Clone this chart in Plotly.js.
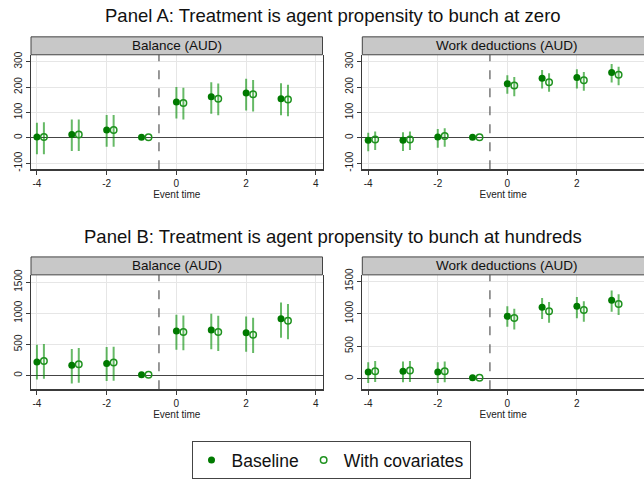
<!DOCTYPE html>
<html>
<head>
<meta charset="utf-8">
<script src="https://cdn.plot.ly/plotly-3.0.1.min.js"></script>
<style>html,body{margin:0;padding:0;background:#fff;}#chart{width:644px;height:479px;}</style>
</head>
<body>
<div id="chart"></div>
<script>
// ---- Data ----
const eventTime = [-4, -3, -2, -1, 0, 1, 2, 3];
const covShift = 0.2;
const panelTitles = ["Panel A: Treatment is agent propensity to bunch at zero",
                     "Panel B: Treatment is agent propensity to bunch at hundreds"];
const subTitles = ["Balance (AUD)", "Work deductions (AUD)"];
const seriesNames = ["Baseline", "With covariates"];

// Panel A – Balance
const aBalBase   = [3, 13, 31, 2, 141, 162, 176, 154];
const aBalBaseLo = [-65, -52, -35, 2, 76, 95, 108, 89];
const aBalBaseHi = [59, 72, 90, 2, 200, 219, 233, 215];
const aBalCov    = [3, 13, 31, 2, 137, 154, 172, 151];
const aBalCovLo  = [-65, -52, -35, 2, 72, 89, 104, 85];
const aBalCovHi  = [61, 72, 90, 2, 197, 214, 228, 209];
// Panel A – Work deductions
const aWrkBase   = [-10, -10, 3, 2, 213, 235, 237, 257];
const aWrkBaseLo = [-53, -52, -39, 2, 173, 194, 194, 218];
const aWrkBaseHi = [20, 22, 35, 2, 246, 267, 270, 291];
const aWrkCov    = [-7, -7, 7, 2, 206, 219, 227, 248];
const aWrkCovLo  = [-48, -48, -35, 2, 164, 181, 185, 207];
const aWrkCovHi  = [25, 25, 38, 2, 239, 254, 259, 280];
// Panel B – Balance
const bBalBase   = [218, 165, 191, 10, 713, 729, 686, 910];
const bBalBaseLo = [-64, -128, -90, 10, 415, 420, 383, 606];
const bBalBaseHi = [495, 426, 458, 10, 974, 990, 947, 1170];
const bBalCov    = [234, 181, 207, 10, 697, 697, 654, 878];
const bBalCovLo  = [-53, -117, -85, 10, 404, 394, 362, 580];
const bBalCovHi  = [505, 442, 463, 10, 963, 958, 926, 1149];
// Panel B – Work deductions
const bWrkBase   = [103, 113, 103, 15, 958, 1097, 1112, 1205];
const bWrkBaseLo = [-67, -57, -67, 15, 798, 917, 927, 1030];
const bWrkBaseHi = [252, 263, 252, 15, 1112, 1241, 1257, 1354];
const bWrkCov    = [113, 124, 113, 15, 932, 1035, 1056, 1148];
const bWrkCovLo  = [-52, -52, -57, 15, 757, 860, 875, 979];
const bWrkCovHi  = [273, 273, 263, 15, 1076, 1179, 1190, 1297];

const xTicks = [-4, -2, 0, 2, 4];
const yTicksA = [-100, 0, 100, 200, 300];
const yTicksB = [0, 500, 1000, 1500];

// ---- Styling ----
const W = 644, H = 479;
const FONT = "Liberation Sans, Arial, Helvetica, sans-serif";
const BASE_COL = "#007a00";
const COV_COL = "#1f921f";
const CI_COL = "rgba(0,140,0,0.6)";
const AXIS_COL = "#3a3a3a";
const GRID_COL = "#e6e6e6";

function px2x(p) { return p / W; }
function py2y(p) { return 1 - p / H; }

const panels = [
  {xa: "x",  ya: "y",  base: [aBalBase, aBalBaseLo, aBalBaseHi], cov: [aBalCov, aBalCovLo, aBalCovHi], legend: true},
  {xa: "x2", ya: "y2", base: [aWrkBase, aWrkBaseLo, aWrkBaseHi], cov: [aWrkCov, aWrkCovLo, aWrkCovHi], legend: false},
  {xa: "x3", ya: "y3", base: [bBalBase, bBalBaseLo, bBalBaseHi], cov: [bBalCov, bBalCovLo, bBalCovHi], legend: false},
  {xa: "x4", ya: "y4", base: [bWrkBase, bWrkBaseLo, bWrkBaseHi], cov: [bWrkCov, bWrkCovLo, bWrkCovHi], legend: false}
];

const traces = [];
panels.forEach(p => {
  const [bv, bl, bh] = p.base;
  const [cv, cl, ch] = p.cov;
  traces.push({
    type: "scatter", mode: "markers", name: seriesNames[0], legendgroup: "b", showlegend: p.legend,
    x: eventTime, y: bv, xaxis: p.xa, yaxis: p.ya, cliponaxis: false,
    marker: {color: BASE_COL, size: 7, symbol: "circle"},
    error_y: {type: "data", symmetric: false, array: bh.map((v, i) => v - bv[i]),
              arrayminus: bv.map((v, i) => v - bl[i]), color: CI_COL, thickness: 2, width: 0}
  });
  traces.push({
    type: "scatter", mode: "markers", name: seriesNames[1], legendgroup: "c", showlegend: p.legend,
    x: eventTime.map(t => t + covShift), y: cv, xaxis: p.xa, yaxis: p.ya, cliponaxis: false,
    marker: {color: COV_COL, size: 6.5, symbol: "circle-open", line: {color: COV_COL, width: 1.5}},
    error_y: {type: "data", symmetric: false, array: ch.map((v, i) => v - cv[i]),
              arrayminus: cv.map((v, i) => v - cl[i]), color: CI_COL, thickness: 2, width: 0}
  });
});

// Domains (pixel based)
const xL = [px2x(31), px2x(322.5)];
const xR = [px2x(362.3), 1];
const yA = [py2y(170), py2y(55)];
const yB = [py2y(391), py2y(276)];

function xaxis(dom, range, anchor) {
  return {
    domain: dom, range: range, anchor: anchor, tickvals: xTicks, ticktext: xTicks.map(String),
    showgrid: true, gridcolor: GRID_COL, gridwidth: 1, zeroline: false,
    showline: true, linecolor: AXIS_COL, linewidth: 1.3, mirror: false,
    ticks: "outside", ticklen: 4, tickwidth: 1, tickcolor: AXIS_COL,
    tickfont: {family: FONT, size: 10, color: "#222"},
    title: {text: "Event time", font: {family: FONT, size: 10, color: "#222"}, standoff: 2}
  };
}
function yaxis(dom, range, ticks, anchor, mirror) {
  return {
    domain: dom, range: range, anchor: anchor, tickvals: ticks, ticktext: ticks.map(String),
    showgrid: true, gridcolor: GRID_COL, gridwidth: 1,
    zeroline: true, zerolinecolor: "#444", zerolinewidth: 1,
    showline: true, linecolor: AXIS_COL, linewidth: 1.3, mirror: mirror,
    ticks: "outside", ticklen: 4, tickwidth: 1, tickcolor: AXIS_COL, tickangle: -90,
    tickfont: {family: FONT, size: 10, color: "#222"}
  };
}

const shapes = [];
const annotations = [];
// strip headers
const headers = [
  {x0: px2x(31), x1: px2x(322.5), y0: py2y(55), y1: py2y(37), t: subTitles[0]},
  {x0: px2x(362.3), x1: 1.05, y0: py2y(55), y1: py2y(37), t: subTitles[1]},
  {x0: px2x(31), x1: px2x(322.5), y0: py2y(276), y1: py2y(258), t: subTitles[0]},
  {x0: px2x(362.3), x1: 1.05, y0: py2y(276), y1: py2y(258), t: subTitles[1]}
];
headers.forEach(h => {
  shapes.push({type: "rect", xref: "paper", yref: "paper", x0: h.x0, x1: h.x1, y0: h.y0, y1: h.y1,
               fillcolor: "#c8c8c8", line: {color: "#444", width: 1}, layer: "above"});
});
const headerCenters = [
  [(31 + 322.5) / 2, 46], [(362.3 + 652) / 2, 46], [(31 + 322.5) / 2, 267], [(362.3 + 652) / 2, 267]
];
headerCenters.forEach((c, i) => {
  annotations.push({xref: "paper", yref: "paper", x: px2x(c[0]), y: py2y(c[1]), text: headers[i].t,
                    showarrow: false, xanchor: "center", yanchor: "middle",
                    font: {family: FONT, size: 13.5, color: "#111"}});
});
// dashed event line
["x", "x2", "x3", "x4"].forEach((xa, i) => {
  const ya = ["y", "y2", "y3", "y4"][i];
  shapes.push({type: "line", xref: xa, yref: ya + " domain", x0: -0.5, x1: -0.5, y0: 0, y1: 1,
               line: {color: "#555", width: 1.2, dash: "dash"}, layer: "above"});
});
// panel titles
annotations.push({xref: "paper", yref: "paper", x: px2x(332.5), y: py2y(16), text: panelTitles[0],
                  showarrow: false, xanchor: "center", yanchor: "middle", font: {family: FONT, size: 18.5, color: "#111"}});
annotations.push({xref: "paper", yref: "paper", x: px2x(332.8), y: py2y(237.5), text: panelTitles[1],
                  showarrow: false, xanchor: "center", yanchor: "middle", font: {family: FONT, size: 18.5, color: "#111"}});

const layout = {
  width: W, height: H, margin: {l: 0, r: 0, t: 0, b: 0},
  paper_bgcolor: "#fff", plot_bgcolor: "#fff",
  font: {family: FONT},
  xaxis: xaxis(xL, [-4.17, 4.19], "y"),
  yaxis: yaxis(yA, [-124, 327], yTicksA, "x", true),
  xaxis2: xaxis(xR, [-4.17, 3.93], "y2"),
  yaxis2: yaxis(yA, [-124, 327], yTicksA, "x2", false),
  xaxis3: xaxis(xL, [-4.17, 4.19], "y3"),
  yaxis3: yaxis(yB, [-223, 1616], yTicksB, "x3", true),
  xaxis4: xaxis(xR, [-4.17, 3.93], "y4"),
  yaxis4: yaxis(yB, [-165, 1596], yTicksB, "x4", false),
  showlegend: true,
  legend: {orientation: "h", x: px2x(331), xanchor: "center", y: py2y(443), yanchor: "top",
           bordercolor: "#444", borderwidth: 1, bgcolor: "#fff",
           font: {family: FONT, size: 17.5, color: "#111"}, itemsizing: "trace"},
  shapes: shapes, annotations: annotations
};

Plotly.newPlot("chart", traces, layout, {displayModeBar: false, staticPlot: true});
</script>
</body>
</html>
